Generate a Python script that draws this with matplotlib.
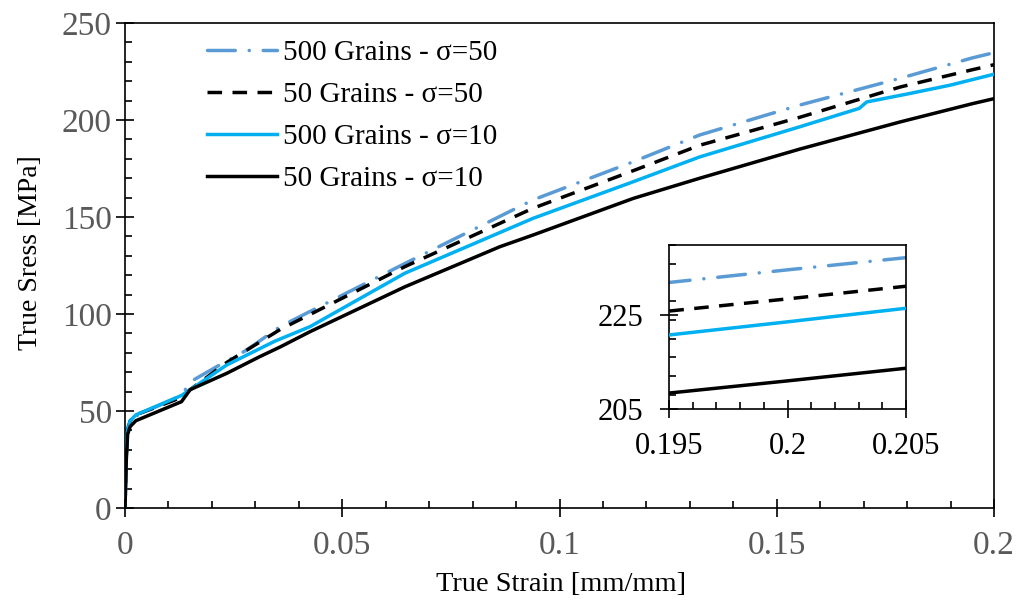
import matplotlib
matplotlib.use('Agg')
import matplotlib.pyplot as plt
from matplotlib.ticker import MultipleLocator

plt.rcParams['font.family'] = ['Liberation Serif', 'DejaVu Serif']
plt.rcParams['lines.scale_dashes'] = False

# ---- data ----
labels = ['500 Grains - σ=50', '50 Grains - σ=50', '500 Grains - σ=10', '50 Grains - σ=10']

strain_g500_s50 = [0, 0.0003, 0.0006, 0.0012, 0.005, 0.013, 0.015, 0.022, 0.028, 0.0357,
                   0.0644, 0.0939, 0.117, 0.1323, 0.1553, 0.1784, 0.195, 0.2, 0.205]
stress_g500_s50 = [0, 30, 41, 46, 50, 58, 65, 74, 81.4, 93.5,
                   126, 158.8, 178.5, 192.3, 207.7, 221.5, 232, 234.7, 237.3]

strain_g50_s50 = [0, 0.0003, 0.0006, 0.0012, 0.0025, 0.013, 0.015, 0.0234, 0.0357, 0.0644,
                  0.0939, 0.117, 0.1323, 0.1553, 0.1784, 0.195, 0.2, 0.205]
stress_g50_s50 = [0, 28, 40, 45, 48, 57, 61, 75, 92, 124.4,
                  154.5, 173.9, 187, 201.4, 217, 225.9, 228.5, 231.2]

strain_g500_s10 = [0, 0.0003, 0.0006, 0.0012, 0.0025, 0.013, 0.015, 0.0234, 0.0345, 0.0426,
                   0.0644, 0.0939, 0.117, 0.1323, 0.1553, 0.169, 0.1707, 0.1807, 0.19, 0.195,
                   0.2, 0.205]
stress_g500_s10 = [0, 28, 40, 45, 48, 58, 61, 73.7, 86, 93.5,
                   121, 149.3, 168.2, 181, 196.5, 206, 209.3, 213.7, 218, 220.8,
                   223.6, 226.5]

strain_g50_s10 = [0, 0.0003, 0.0006, 0.0012, 0.0025, 0.013, 0.015, 0.0234, 0.031, 0.0357,
                  0.0426, 0.0644, 0.0863, 0.0939, 0.117, 0.1323, 0.1553, 0.1784, 0.195, 0.2,
                  0.205]
stress_g50_s10 = [0, 25, 38, 42, 45, 54.8, 61, 69.4, 78, 83,
                  90.9, 114, 134.7, 140.7, 159.6, 170, 185, 199, 208.4, 211,
                  213.7]

series = [
    (strain_g500_s50, stress_g500_s50, dict(color='#5B9BD5', dashes=(20, 10, 0.1, 10), dash_capstyle='round')),
    (strain_g50_s50, stress_g50_s50, dict(color='black', dashes=(10.5, 7.5), dash_capstyle='butt')),
    (strain_g500_s10, stress_g500_s10, dict(color='#00B0F0')),
    (strain_g50_s10, stress_g50_s10, dict(color='black')),
]

GRAY = '#595959'
LW = 2.5

fig = plt.figure(figsize=(10.17, 6.01), dpi=100)
ax = fig.add_axes([125/1017, 1 - 508/601, (994 - 125)/1017, (508 - 23)/601])

for i, ((x, y, st), lab) in enumerate(zip(series, labels)):
    ax.plot(x, y, lw=LW, label=lab, zorder=2 + i, **st)

ax.set_xlim(0, 0.2)
ax.set_ylim(0, 250)
ax.xaxis.set_major_locator(MultipleLocator(0.05))
ax.xaxis.set_minor_locator(MultipleLocator(0.01))
ax.yaxis.set_major_locator(MultipleLocator(50))
ax.yaxis.set_minor_locator(MultipleLocator(10))
ax.set_xticks([0, 0.05, 0.1, 0.15, 0.2], ['0', '0.05', '0.1', '0.15', '0.2'])
for s in ax.spines.values():
    s.set_linewidth(1.2)
ax.tick_params(which='major', direction='inout', length=13, width=1.2, labelsize=24, labelcolor=GRAY)
ax.tick_params(which='minor', direction='in', length=5, width=1.2)
ax.tick_params(axis='x', which='major', pad=10)
ax.tick_params(axis='y', which='major', pad=3)
ax.set_xlabel('True Strain [mm/mm]', fontsize=20.5)
ax.set_ylabel('True Sress [MPa]', fontsize=20)
# label positions (axes fraction)
ax.xaxis.set_label_coords((561 - 125)/869, -(572 - 508)/485)
ax.yaxis.set_label_coords(-(125 - 43)/869, (508 - 253)/485)

ax.legend(loc='upper left', bbox_to_anchor=(207/1017, 1 - 40/601), bbox_transform=fig.transFigure,
          frameon=False, fontsize=21, handlelength=2.4, handletextpad=0.2,
          labelspacing=0.53, borderpad=0, borderaxespad=0)

# ---- inset zoom near the end of the test ----
ins = fig.add_axes([669/1017, 1 - 409/601, (906 - 669)/1017, (409 - 245)/601])
for i, (x, y, st) in enumerate(series):
    ins.plot(x, y, lw=LW, zorder=2 + i, **st)
ins.set_xlim(0.195, 0.205)
ins.set_ylim(205, 240)
ins.set_xticks([0.195, 0.2, 0.205], ['0.195', '0.2', '0.205'])
ins.xaxis.set_minor_locator(MultipleLocator(0.001))
ins.set_yticks([205, 225])
ins.yaxis.set_minor_locator(MultipleLocator(4))
for s in ins.spines.values():
    s.set_linewidth(1.2)
ins.tick_params(which='major', direction='inout', length=13, width=1.2, labelsize=22)
ins.tick_params(which='minor', direction='in', length=5, width=1.2)
ins.tick_params(axis='x', which='major', pad=10)
ins.tick_params(axis='y', which='major', pad=12)

fig.savefig('out.png', dpi=100)
